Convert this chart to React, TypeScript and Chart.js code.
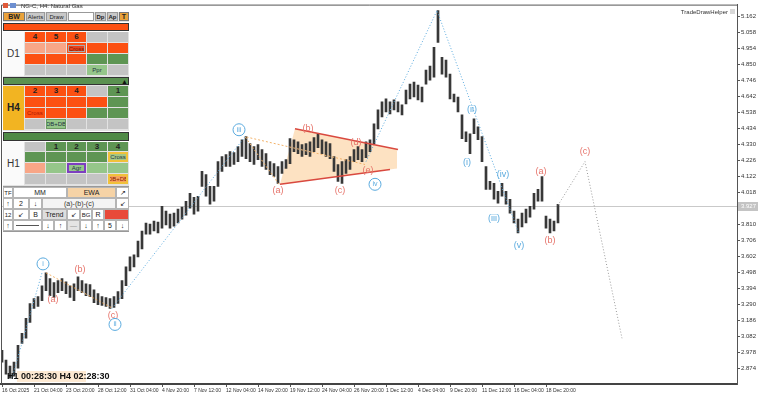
import React, { useEffect, useRef } from 'react';
import { Chart, registerables } from 'chart.js';
Chart.register(...registerables);

// ---------------- data ----------------
// H4 bars (every second bar), high / low prices
const priceHighs = [
  2.990, 2.926, 2.887, 2.913, 3.022, 3.100, 3.197, 3.294, 3.326, 3.339,
  3.410, 3.494, 3.456, 3.430, 3.443, 3.456, 3.436, 3.410, 3.423, 3.468,
  3.443, 3.423, 3.417, 3.384, 3.359, 3.339, 3.333, 3.326, 3.339, 3.372,
  3.443, 3.533, 3.598, 3.611, 3.701, 3.766, 3.818, 3.811, 3.830, 3.824,
  3.927, 3.895, 3.876, 3.882, 3.908, 3.921, 3.960, 4.011, 3.986, 3.992,
  4.154, 4.133, 4.057, 4.057, 4.218, 4.251, 4.263, 4.283, 4.276, 4.315,
  4.360, 4.380, 4.335, 4.315, 4.328, 4.296, 4.270, 4.218, 4.205, 4.186,
  4.218, 4.231, 4.367, 4.360, 4.347, 4.328, 4.335, 4.347, 4.374, 4.399,
  4.360, 4.347, 4.335, 4.251, 4.199, 4.218, 4.231, 4.251, 4.296, 4.315,
  4.296, 4.347, 4.360, 4.464, 4.554, 4.606, 4.626, 4.606, 4.619, 4.606,
  4.587, 4.684, 4.722, 4.735, 4.716, 4.703, 4.813, 4.839, 4.962, 5.201,
  4.897, 4.878, 4.787, 4.658, 4.638, 4.522, 4.412, 4.399, 4.496, 4.444,
  4.380, 4.186, 4.089, 4.076, 4.024, 4.076, 4.024, 3.973, 3.895, 3.843,
  3.882, 3.908, 3.927, 4.011, 4.037, 4.121, 3.863, 3.843, 3.830, 3.940,
];
const priceLows = [
  2.913, 2.835, 2.809, 2.822, 2.874, 3.035, 3.068, 3.171, 3.262, 3.275,
  3.313, 3.378, 3.346, 3.333, 3.365, 3.378, 3.359, 3.333, 3.313, 3.378,
  3.365, 3.346, 3.339, 3.300, 3.287, 3.281, 3.275, 3.262, 3.268, 3.294,
  3.326, 3.410, 3.507, 3.533, 3.598, 3.649, 3.746, 3.746, 3.766, 3.753,
  3.785, 3.805, 3.785, 3.798, 3.818, 3.843, 3.869, 3.914, 3.876, 3.895,
  4.057, 3.992, 3.940, 3.960, 4.057, 4.154, 4.186, 4.186, 4.199, 4.218,
  4.251, 4.237, 4.218, 4.199, 4.231, 4.186, 4.167, 4.133, 4.121, 4.076,
  4.141, 4.173, 4.205, 4.283, 4.270, 4.251, 4.263, 4.251, 4.283, 4.309,
  4.270, 4.251, 4.237, 4.154, 4.089, 4.076, 4.141, 4.167, 4.218, 4.231,
  4.218, 4.244, 4.283, 4.335, 4.431, 4.509, 4.541, 4.528, 4.554, 4.541,
  4.522, 4.593, 4.626, 4.638, 4.619, 4.606, 4.722, 4.748, 4.768, 4.994,
  4.787, 4.768, 4.626, 4.606, 4.541, 4.367, 4.347, 4.270, 4.399, 4.360,
  4.218, 4.037, 4.037, 3.973, 3.947, 3.992, 3.940, 3.882, 3.818, 3.753,
  3.792, 3.818, 3.856, 3.908, 3.960, 3.960, 3.785, 3.753, 3.766, 3.818,
];
const barNumbers = priceHighs.map((_, i) => i * 2);

const xTickBars = [0, 16, 32, 48, 64, 80, 96, 112, 128, 144, 160, 176, 192, 208, 224, 240, 256, 272];
const xTickLabels = [
  '16 Oct 2025', '21 Oct 04:00', '23 Oct 20:00', '28 Oct 12:00', '31 Oct 04:00', '4 Nov 20:00',
  '7 Nov 12:00', '12 Nov 04:00', '14 Nov 20:00', '19 Nov 12:00', '24 Nov 04:00', '26 Nov 20:00',
  '1 Dec 12:00', '4 Dec 04:00', '9 Dec 20:00', '11 Dec 12:00', '16 Dec 04:00', '18 Dec 20:00',
];
const yTickValues = [
  5.162, 5.058, 4.954, 4.850, 4.746, 4.642, 4.538, 4.434, 4.330, 4.226, 4.122, 4.018,
  3.810, 3.706, 3.602, 3.498, 3.394, 3.290, 3.186, 3.082, 2.978, 2.874,
];
const lastPrice = 3.927;

// wave lines
const blueWave1Bars = [5, 20];
const blueWave1Prices = [2.809, 3.494];
const blueWave2Bars = [55, 121.5];
const blueWave2Prices = [3.262, 4.380];
const blueWave3Bars = [182, 217.5, 258.5];
const blueWave3Prices = [4.218, 5.201, 3.747];
const orangeWave1Bars = [22, 55.5];
const orangeWave1Prices = [3.494, 3.262];
const orangeWave2Bars = [138.5, 121.5, 181.5];
const orangeWave2Prices = [4.070, 4.380, 4.199];
const projectionBars = [278, 291.5, 310];
const projectionPrices = [3.934, 4.218, 3.068];
const triUpperBars = [146.5, 198];
const triUpperPrices = [4.432, 4.296];
const triLowerBars = [139, 194];
const triLowerPrices = [4.070, 4.167];
const triFillBars = [146.5, 197.5, 197.5, 139];
const triFillPrices = [4.432, 4.296, 4.173, 4.070];

// wave labels
const labelTexts = ['i', '(a)', '(b)', '(c)', 'ii', 'iii', '(a)', '(b)', '(c)', '(d)', '(e)', 'iv',
  '(i)', '(ii)', '(iii)', '(iv)', '(v)', '(a)', '(b)', '(c)'];
const labelBars = [20.5, 25.5, 39, 55.5, 56.5, 118.5, 138, 153, 169, 177, 183, 186.5,
  232.5, 235, 246, 250.5, 258.5, 269.5, 274, 291.5];
const labelPrices = [3.552, 3.320, 3.514, 3.216, 3.158, 4.425, 4.031, 4.432, 4.031, 4.341, 4.160, 4.070,
  4.212, 4.554, 3.850, 4.133, 3.669, 4.154, 3.701, 4.283];
const labelKinds = ['bc', 'r', 'r', 'r', 'bc', 'bc', 'r', 'r', 'r', 'r', 'r', 'bc',
  'b', 'b', 'b', 'b', 'b', 'r', 'r', 'r'];

// ---------------- styles ----------------
const BLUE = '#5aaade';
const RED = '#e6736a';
const FONT = '"Liberation Sans", Arial, sans-serif';

const pts = (bars: number[], prices: number[]) => bars.map((b, i) => ({ x: b, y: prices[i] }));
const lineDs = (bars: number[], prices: number[], color: string, dash: number[], width = 1) => ({
  type: 'line' as const,
  data: pts(bars, prices),
  borderColor: color,
  borderWidth: width,
  borderDash: dash,
  pointRadius: 0,
  fill: false,
  tension: 0,
  order: 1,
});

const overlayPlugin = {
  id: 'overlay',
  beforeDatasetsDraw(chart: any) {
    const { ctx, scales, chartArea } = chart;
    const x = scales.x, y = scales.y;
    ctx.save();
    ctx.beginPath();
    triFillBars.forEach((b, i) => {
      const px = x.getPixelForValue(b), py = y.getPixelForValue(triFillPrices[i]);
      if (i === 0) ctx.moveTo(px, py); else ctx.lineTo(px, py);
    });
    ctx.closePath();
    ctx.fillStyle = 'rgba(252, 214, 168, 0.7)';
    ctx.fill();
    const ly = Math.round(y.getPixelForValue(lastPrice)) + 0.5;
    ctx.strokeStyle = '#c9c9c9';
    ctx.lineWidth = 1;
    ctx.beginPath();
    ctx.moveTo(chartArea.left, ly);
    ctx.lineTo(chartArea.right, ly);
    ctx.stroke();
    ctx.restore();
  },
  afterDatasetsDraw(chart: any) {
    const { ctx, scales } = chart;
    const x = scales.x, y = scales.y;
    ctx.save();
    ctx.textAlign = 'center';
    ctx.textBaseline = 'middle';
    labelTexts.forEach((t, i) => {
      const px = x.getPixelForValue(labelBars[i]);
      const py = y.getPixelForValue(labelPrices[i]);
      const k = labelKinds[i];
      if (k === 'bc') {
        ctx.beginPath();
        ctx.arc(px, py, 6, 0, Math.PI * 2);
        ctx.fillStyle = '#ffffff';
        ctx.fill();
        ctx.strokeStyle = BLUE;
        ctx.lineWidth = 1;
        ctx.stroke();
        ctx.font = `7px ${FONT}`;
        ctx.fillStyle = BLUE;
        ctx.fillText(t, px, py);
      } else {
        ctx.font = `9px ${FONT}`;
        ctx.fillStyle = k === 'r' ? RED : BLUE;
        ctx.fillText(t, px, py);
      }
    });
    ctx.restore();
  },
  afterDraw(chart: any) {
    const { ctx, scales, chartArea } = chart;
    const y = scales.y;
    ctx.save();
    ctx.strokeStyle = '#555';
    ctx.lineWidth = 1;
    ctx.beginPath();
    ctx.moveTo(chartArea.left + 0.5, chartArea.bottom);
    ctx.lineTo(chartArea.left + 0.5, chartArea.top + 0.5);
    ctx.lineTo(chartArea.right, chartArea.top + 0.5);
    ctx.stroke();
    const ly = Math.round(y.getPixelForValue(lastPrice));
    ctx.fillStyle = '#c4c4c4';
    ctx.fillRect(chartArea.right + 1, ly - 4, 20, 9);
    ctx.fillStyle = '#ffffff';
    ctx.font = `6px ${FONT}`;
    ctx.textAlign = 'left';
    ctx.textBaseline = 'middle';
    ctx.fillText(lastPrice.toFixed(3), chartArea.right + 4, ly + 0.5);
    ctx.restore();
  },
};

// ---------------- panel ----------------
type BoxProps = {
  x1: number; y1: number; x2: number; y2: number; bg?: string; text?: string;
  color?: string; size?: number; bold?: boolean; border?: string; justify?: string;
};
function Box({ x1, y1, x2, y2, bg = 'transparent', text = '', color = '#222', size = 7, bold = false, border, justify = 'center' }: BoxProps) {
  return (
    <div style={{
      position: 'absolute', left: x1, top: y1, width: x2 - x1, height: y2 - y1, background: bg,
      boxSizing: 'border-box', border: border || 'none', display: 'flex', alignItems: 'center',
      justifyContent: justify, fontFamily: FONT, fontSize: size, fontWeight: bold ? 700 : 400,
      color, lineHeight: 1, whiteSpace: 'nowrap', overflow: 'hidden', paddingLeft: justify === 'flex-start' ? 2 : 0,
    }}>{text}</div>
  );
}

const O = '#fc5012', S = '#f8a687', GN = '#5e9553', LG = '#95c68a', GR = '#c4c4c4';
const cols = [[25, 46], [46, 67], [67, 87], [87, 108], [108, 129]];
type G = [string, string?, string?, string?][];
const d1Grid: G[] = [
  [[O, '4'], [O, '5'], [O, '6'], [GR], [GR]],
  [[S], [S], [O, 'CROSSBOX'], [O], [O]],
  [[O], [O], [O], [GN], [GN]],
  [[GR], [GR], [GR], [LG, 'Ppr', 'small'], [GR]],
];
const h4Grid: G[] = [
  [[O, '2'], [O, '3'], [O, '4'], [GR], [GN, '1']],
  [[O], [O], [O], [O], [GN]],
  [[O, 'Cross', 'redleft'], [O], [O], [GN], [GN]],
  [[GR], [LG, 'DB+DB', 'small', '1px solid #6a9a60'], [GR], [GR], [GR]],
];
const h1Grid: G[] = [
  [[GR], [GN, '1'], [GN, '2'], [GN, '3'], [GN, '4']],
  [[GN], [GN], [GN], [GN], ['#a5c785', 'Cross', 'small', '2px solid #f0c13a']],
  [[S], [LG], [LG, 'Agr', 'small', '2px solid #7d3fc0'], [LG], [LG]],
  [[GR], [GR], [GR], [GR], ['#f7a35e', 'DB+DB', 'smallred', '2px solid #f0c13a']],
];

function Grid({ grid, rows }: { grid: G[]; rows: number[][] }) {
  const out: any[] = [];
  grid.forEach((row, r) => row.forEach((c, ci) => {
    const [bg, text, kind, border] = c;
    const [x1, x2] = cols[ci];
    const [y1, y2] = rows[r];
    if (text === 'CROSSBOX') {
      out.push(<Box key={`${r}-${ci}`} x1={x1} y1={y1} x2={x2 - 1} y2={y2 - 1} bg={bg} />);
      out.push(<Box key={`${r}-${ci}b`} x1={x1 + 1} y1={y1 + 2} x2={x2 - 2} y2={y2 - 2} bg="#e8431c" text="Cross" size={6} color="#7a1500" border="1px solid #aaa" />);
      return;
    }
    let size = 8, bold = true, color = '#222', justify = 'center';
    if (kind === 'small') { size = 6; bold = false; color = '#234'; }
    if (kind === 'smallred') { size = 6; bold = false; color = '#8a2000'; }
    if (kind === 'redleft') { size = 6; bold = false; color = '#b01800'; justify = 'flex-start'; }
    out.push(<Box key={`${r}-${ci}`} x1={x1} y1={y1} x2={x2 - 1} y2={y2 - 1} bg={bg} text={text}
      size={size} bold={bold} color={color} border={border} justify={justify} />);
  }));
  return <>{out}</>;
}

function Panel() {
  const tb = '1px solid #b5b5b5';
  return (
    <div style={{ position: 'absolute', left: 0, top: 0 }}>
      <Box x1={3} y1={12} x2={129} y2={232} bg="#e2e2e2" />
      <Box x1={3} y1={12} x2={25} y2={21} bg="#e9a23b" text="BW" bold size={7} border="1px solid #777" />
      <Box x1={26} y1={12} x2={45} y2={21} bg="#c8c8c8" text="Alerts" size={6} border="1px solid #999" />
      <Box x1={46} y1={12} x2={67} y2={21} bg="#c8c8c8" text="Draw" size={6} border="1px solid #999" />
      <Box x1={68} y1={12} x2={94} y2={21} bg="#ffffff" border="1px solid #999" />
      <Box x1={95} y1={12} x2={106} y2={21} bg="#c8c8c8" text="Dp" bold size={6} border="1px solid #999" />
      <Box x1={107} y1={12} x2={118} y2={21} bg="#c8c8c8" text="Ap" bold size={6} border="1px solid #999" />
      <Box x1={119} y1={12} x2={129} y2={21} bg="#e9a23b" text="T" bold size={7} border="1px solid #777" />
      <Box x1={3} y1={22} x2={129} y2={32} bg="#ffffff" />
      <Box x1={3} y1={23} x2={129} y2={31} bg={O} border="1px solid #333" />
      <Box x1={3} y1={32} x2={24} y2={76} bg="#fafafa" text="D1" size={10} color="#333" />
      <Grid grid={d1Grid} rows={[[32, 43], [43, 54], [54, 65], [65, 76]]} />
      <Box x1={3} y1={77} x2={129} y2={85} bg="#5a9150" text="▲" size={7} color="#111" justify="flex-end" border="1px solid #333" />
      <Box x1={3} y1={86} x2={24} y2={130} bg="#f2b422" text="H4" bold size={10} color="#222" />
      <Grid grid={h4Grid} rows={[[86, 97], [97, 108], [108, 119], [119, 130]]} />
      <Box x1={3} y1={131} x2={129} y2={142} bg="#ffffff" />
      <Box x1={3} y1={132} x2={129} y2={141} bg="#4f8a46" border="1px solid #333" />
      <Box x1={3} y1={142} x2={24} y2={185} bg="#fafafa" text="H1" size={10} color="#333" />
      <Grid grid={h1Grid} rows={[[142, 152], [152, 163], [163, 174], [174, 185]]} />
      <Box x1={3} y1={186} x2={129} y2={232} bg="#ffffff" border="1px solid #999" />
      <Box x1={3} y1={187} x2={13} y2={198} text="TF" size={6} border={tb} />
      <Box x1={13} y1={187} x2={67} y2={198} text="MM" size={7} border={tb} />
      <Box x1={67} y1={187} x2={116} y2={198} bg="#f6d3a6" text="EWA" size={7} border={tb} />
      <Box x1={116} y1={187} x2={129} y2={198} text="↗" size={7} border={tb} />
      <Box x1={3} y1={198} x2={13} y2={209} text="↑" size={7} border={tb} />
      <Box x1={13} y1={198} x2={29} y2={209} text="2" size={7} border={tb} />
      <Box x1={29} y1={198} x2={42} y2={209} text="↓" size={7} border={tb} />
      <Box x1={42} y1={198} x2={116} y2={209} bg="#f4f4f4" text="(a)-(b)-(c)" size={7} color="#333" border={tb} />
      <Box x1={116} y1={198} x2={129} y2={209} text="↙" size={7} border={tb} />
      <Box x1={3} y1={209} x2={13} y2={220} text="12" size={6} border={tb} />
      <Box x1={13} y1={209} x2={29} y2={220} text="↙" size={7} border={tb} />
      <Box x1={29} y1={209} x2={42} y2={220} text="B" size={7} border={tb} />
      <Box x1={42} y1={209} x2={67} y2={220} bg="#dedede" text="Trend" size={7} border={tb} />
      <Box x1={67} y1={209} x2={80} y2={220} text="↙" size={7} border={tb} />
      <Box x1={80} y1={209} x2={92} y2={220} text="BG" size={6} border={tb} />
      <Box x1={92} y1={209} x2={104} y2={220} text="R" size={7} border={tb} />
      <Box x1={104} y1={209} x2={129} y2={220} bg="#e84a3a" border={tb} />
      <Box x1={3} y1={220} x2={13} y2={231} text="↑" size={7} border={tb} />
      <Box x1={13} y1={220} x2={42} y2={231} border={tb} />
      <Box x1={16} y1={225} x2={39} y2={226} bg="#555" />
      <Box x1={42} y1={220} x2={54} y2={231} text="↓" size={7} border={tb} />
      <Box x1={54} y1={220} x2={67} y2={231} text="↑" size={7} border={tb} />
      <Box x1={67} y1={220} x2={80} y2={231} bg="#e4e4e4" text="—" size={7} color="#999" border={tb} />
      <Box x1={80} y1={220} x2={92} y2={231} text="↓" size={7} border={tb} />
      <Box x1={92} y1={220} x2={104} y2={231} text="↑" size={7} border={tb} />
      <Box x1={104} y1={220} x2={116} y2={231} text="5" size={7} border={tb} />
      <Box x1={116} y1={220} x2={129} y2={231} text="↓" size={7} border={tb} />
    </div>
  );
}

export default function App() {
  const ref = useRef<HTMLCanvasElement>(null);
  useEffect(() => {
    if (!ref.current) return;
    const chart = new Chart(ref.current, {
      type: 'bar',
      data: {
        datasets: [
          lineDs(triUpperBars, triUpperPrices, '#d9493f', [], 1.5),
          lineDs(triLowerBars, triLowerPrices, '#d9493f', [], 1.5),
          lineDs(blueWave1Bars, blueWave1Prices, BLUE, [1, 2]),
          lineDs(blueWave2Bars, blueWave2Prices, BLUE, [1, 2]),
          lineDs(blueWave3Bars, blueWave3Prices, BLUE, [1, 2]),
          lineDs(orangeWave1Bars, orangeWave1Prices, '#f2b26a', [2, 2]),
          lineDs(orangeWave2Bars, orangeWave2Prices, '#f2b26a', [2, 2]),
          lineDs(projectionBars, projectionPrices, '#9a9a9a', [1, 2]),
          {
            type: 'bar',
            data: barNumbers.map((b, i) => ({ x: b, y: [priceLows[i], priceHighs[i]] })),
            backgroundColor: '#383838',
            borderWidth: 0,
            barThickness: 2,
            order: 10,
          } as any,
        ] as any,
      },
      options: {
        responsive: false,
        maintainAspectRatio: false,
        devicePixelRatio: 1,
        animation: false,
        events: [],
        layout: { padding: { left: 1, top: 2, right: 0, bottom: 0 } },
        plugins: { legend: { display: false }, tooltip: { enabled: false } },
        scales: {
          x: {
            type: 'linear',
            position: 'bottom',
            min: -0.5,
            max: 367.5,
            offset: false,
            afterBuildTicks: (s: any) => { s.ticks = xTickBars.map((v) => ({ value: v })); },
            afterFit: (s: any) => { s.height = 13; },
            ticks: {
              autoSkip: false, maxRotation: 0, minRotation: 0, align: 'start', padding: 1,
              font: { family: FONT, size: 5 }, color: '#333',
              callback: (_v: any, i: number) => xTickLabels[i],
            },
            grid: { drawOnChartArea: false, drawTicks: true, tickLength: 3, color: '#555', offset: false },
            border: { display: true, color: '#444', width: 2 },
          } as any,
          y: {
            type: 'linear',
            position: 'right',
            min: 2.7703,
            max: 5.2396,
            afterBuildTicks: (s: any) => { s.ticks = yTickValues.map((v) => ({ value: v })); },
            afterFit: (s: any) => { s.width = 21; },
            ticks: {
              autoSkip: false, padding: 1,
              font: { family: FONT, size: 6 }, color: '#333',
              callback: (v: any) => Number(v).toFixed(3),
            },
            grid: { drawOnChartArea: false, drawTicks: true, tickLength: 3, color: '#555' },
            border: { display: true, color: '#555', width: 1 },
          } as any,
        },
      },
      plugins: [overlayPlugin],
    });
    return () => chart.destroy();
  }, []);

  return (
    <div style={{ position: 'fixed', left: 0, top: 0, width: 758, height: 397, background: '#fff', overflow: 'hidden' }}>
      <canvas ref={ref} width={758} height={397} style={{ position: 'absolute', left: 0, top: 0, width: 758, height: 397 }} />
      <Panel />
      <Box x1={3} y1={3} x2={8} y2={8} bg="#e05a3a" />
      <Box x1={10} y1={3} x2={16} y2={8} bg="#6d8fd0" />
      <Box x1={19} y1={2} x2={90} y2={10} text="NG-C, H4:  Natural Gas" size={6} color="#333" justify="flex-start" />
      <Box x1={660} y1={8} x2={728} y2={16} text="TradeDrawHelper" size={6} color="#333" justify="flex-end" />
      <Box x1={730} y1={9} x2={735} y2={14} bg="#d8d8d8" />
      <Box x1={17} y1={371} x2={86} y2={382} bg="#fde9d2" />
      <Box x1={5} y1={371} x2={110} y2={382} text="H1 00:28:30 H4 02:28:30" bold size={9} color="#111" justify="flex-start" />
    </div>
  );
}
